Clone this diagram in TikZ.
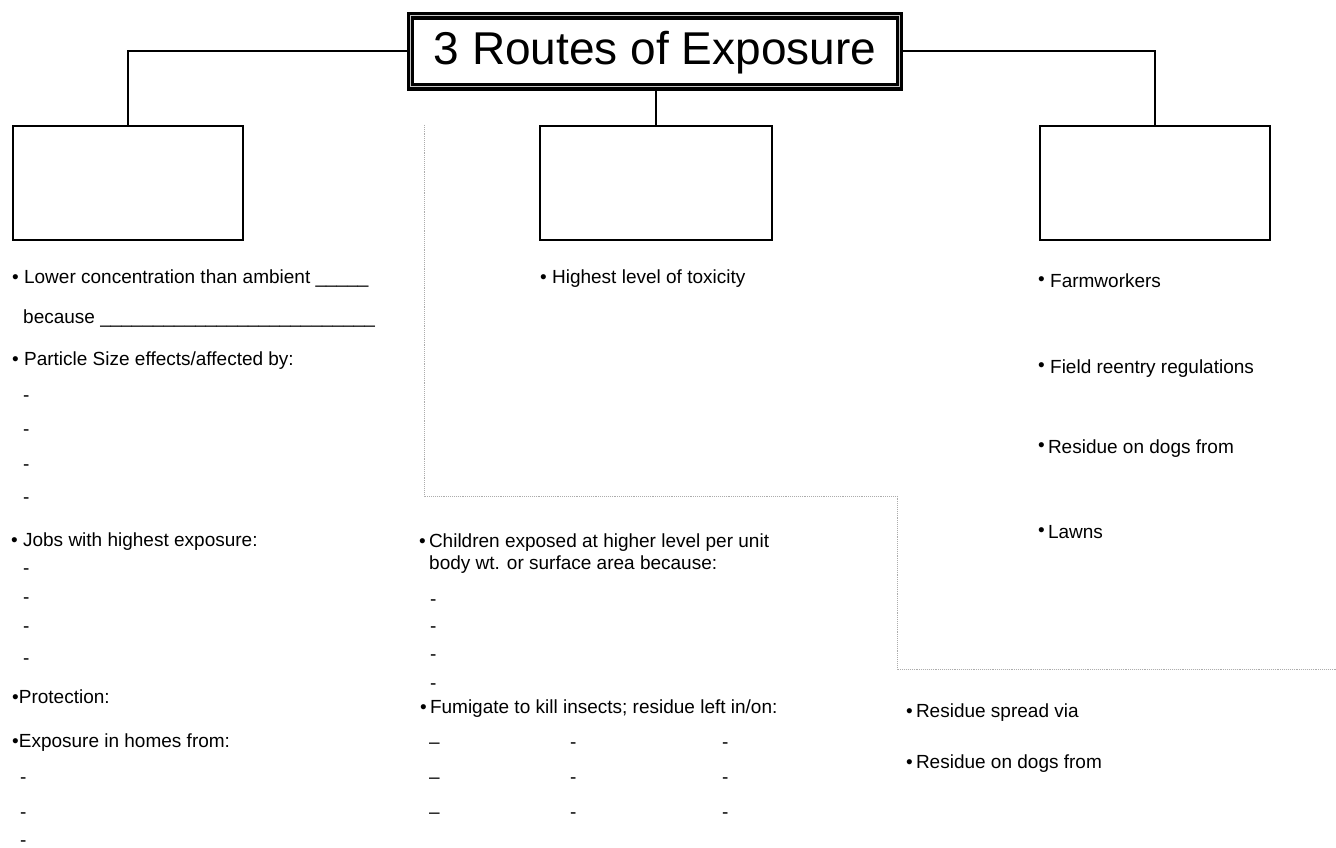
\documentclass[tikz,border=0pt]{standalone}
\usepackage{fontspec}
\setmainfont{Liberation Sans}
\newcommand\rbul{\raisebox{1.6pt}{•}}
\begin{document}
\begin{tikzpicture}[x=1pt,y=-1pt,
  titlebox/.style={draw, line width=3.2pt, double=gray!45, double distance=1.4pt,
    minimum width=489pt, minimum height=71pt, inner sep=0pt,
    font=\fontsize{46}{50}\selectfont},
  emptybox/.style={draw, line width=2.2pt, minimum width=230pt, minimum height=114pt, inner sep=0pt},
  link/.style={draw, line width=1.8pt},
  sep/.style={draw=gray!65, line width=0.9pt, densely dotted},
  txt/.style={anchor=base west, inner sep=0pt, font=\fontsize{19}{22}\selectfont},
  ]
\fill[white] (0,0) rectangle (1336,848);
\useasboundingbox (0,0) rectangle (1336,848);

% title
\node[titlebox] (t) at (655,51.3) {};
\node[anchor=base, inner sep=0pt, font=\fontsize{46}{50}\selectfont] (ttext) at (655,65) {3 Routes of Exposure};

% boxes
\node[emptybox] (lb) at (128,183) {};
\node[emptybox, minimum width=232pt] (mb) at (656,183) {};
\node[emptybox] (rb) at (1155,183) {};

% connectors
\draw[link] (t.west) -| (lb.north);
\draw[link] (t.east) -| (rb.north);
\draw[link] (t.south -| mb.north) -- (mb.north);

% separators
\coordinate (s1) at (424,125);
\coordinate (s2) at (424,496);
\coordinate (s3) at (897,496);
\coordinate (s4) at (897,669);
\coordinate (s5) at (1336,669);
\draw[sep] (s1) -- (s2) -- (s3) -- (s4) -- (s5);

% left column
\node[txt] (l1) at (12,283) {• Lower concentration than ambient \_\_\_\_\_};
\node[txt] (l2) at (23,323) {because \_\_\_\_\_\_\_\_\_\_\_\_\_\_\_\_\_\_\_\_\_\_\_\_\_\_};
\node[txt] (l3) at (12,365) {• Particle Size effects/affected by:};
\node[txt] (l3a) at (23,401) {-};
\node[txt] (l3b) at (23,435) {-};
\node[txt] (l3c) at (23,470) {-};
\node[txt] (l3d) at (23,503) {-};
\node[txt] (l4) at (11,546) {• Jobs with highest exposure:};
\node[txt] (l4a) at (23,574) {-};
\node[txt] (l4b) at (23,603) {-};
\node[txt] (l4c) at (23,632) {-};
\node[txt] (l4d) at (23,664) {-};
\node[txt] (l5) at (12,703) {•Protection:};
\node[txt] (l6) at (12,747) {•Exposure in homes from:};
\node[txt] (l6a) at (20,783) {-};
\node[txt] (l6b) at (20,818) {-};
\node[txt] (l6c) at (20,846) {-};

% middle column
\node[txt] (m1) at (540,283) {• Highest level of toxicity};
\node[txt] (m2) at (419,547) {•\,Children exposed at higher level per unit};
\node[txt] (m3) at (429,569) {body wt. or surface area because:};
\node[txt] (m3a) at (430,605) {-};
\node[txt] (m3b) at (430,632) {-};
\node[txt] (m3c) at (430,660) {-};
\node[txt] (m3d) at (430,689) {-};
\node[txt] (m4) at (420,713) {•\,Fumigate to kill insects; residue left in/on:};
\node[txt] (m4a1) at (429,748) {--};
\node[txt] (m4a2) at (570,748) {-};
\node[txt] (m4a3) at (722,748) {-};
\node[txt] (m4b1) at (429,783) {--};
\node[txt] (m4b2) at (570,783) {-};
\node[txt] (m4b3) at (722,783) {-};
\node[txt] (m4c1) at (429,818) {--};
\node[txt] (m4c2) at (570,818) {-};
\node[txt] (m4c3) at (722,818) {-};

% right column
\node[txt] (r1) at (1038,287) {\rbul{} Farmworkers};
\node[txt] (r2) at (1038,373) {\rbul{} Field reentry regulations};
\node[txt] (r3) at (1038,453) {\rbul\,Residue on dogs from};
\node[txt] (r4) at (1038,538) {\rbul\,Lawns};
\node[txt] (r5) at (906,717) {•\,Residue spread via};
\node[txt] (r6) at (906,768) {•\,Residue on dogs from};
\end{tikzpicture}
\end{document}
